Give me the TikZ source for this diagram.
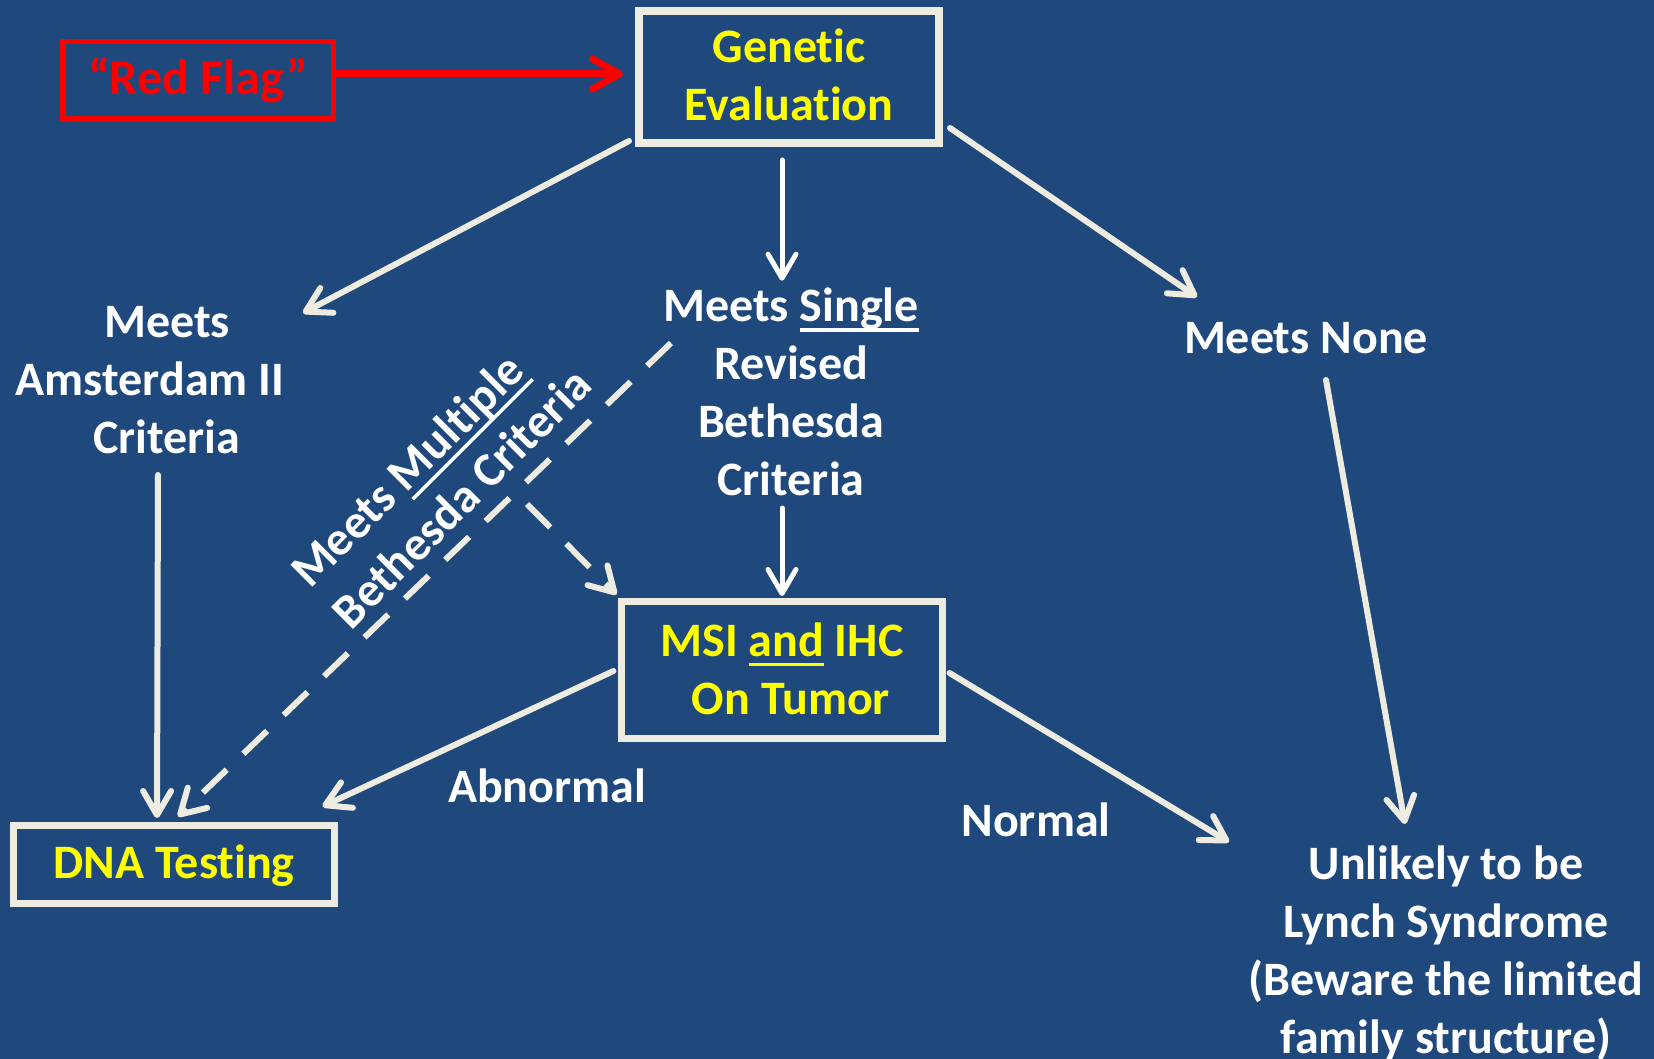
\documentclass[tikz,border=0pt]{standalone}
\usepackage{fontspec}
\setmainfont{Carlito}[Ligatures={NoCommon,NoContextual}]
\usetikzlibrary{arrows.meta}
\definecolor{slide}{HTML}{1F497D}
\definecolor{cream}{HTML}{EEECE1}
\definecolor{hilite}{HTML}{FFFF00}
\definecolor{flagred}{HTML}{FF0000}
% underlined word, rule in the current text colour
\newcommand{\ulword}[1]{\setbox0=\hbox{#1}\rlap{\rule[-10pt]{\wd0}{3.5pt}}\box0\relax}
% struts that fix the height of box texts and free labels
\newcommand{\boxtop}{\rule{0pt}{36pt}}
\newcommand{\boxbot}{\rule[-6pt]{0pt}{6pt}}
\newcommand{\lbltop}{\rule{0pt}{40pt}}

\begin{document}
\begin{tikzpicture}[x=1pt,y=-1pt,
  font=\fontsize{48}{58}\selectfont\bfseries,
  framed/.style={draw=cream, fill=slide, text=hilite, align=center, inner sep=0pt, line width=7pt},
  lbl/.style={text=white, align=center, inner sep=0pt, anchor=north},
  arr/.style={draw=cream, line width=6pt, line cap=round, -{Straight Barb[length=24pt,width=28pt,round]}},
  warr/.style={arr, draw=white, line width=5pt},
  darr/.style={arr, line cap=butt, dash pattern=on 33pt off 23pt},
  redarr/.style={draw=flagred, line width=7pt, -{Straight Barb[length=27pt,width=30pt,round]}}
]
\path[use as bounding box, fill=slide] (0,0) rectangle (1654,1059);

% boxes
\node[framed, draw=flagred, text=flagred, line width=5.5pt, minimum width=270.5pt, minimum height=77.5pt,
  font=\fontsize{50}{58}\selectfont\bfseries]
  (flag) at (198,80.5) {\boxtop “Red Flag”\boxbot};
\node[framed, line width=8pt, minimum width=300pt, minimum height=132pt]
  (gen) at (789,77) {\boxtop Genetic\\Evaluation\boxbot};
\node[framed, minimum width=321pt, minimum height=137pt]
  (msi) at (782,670) {\boxtop MSI \ulword{and} IHC\\\hspace*{18pt}On Tumor\boxbot};
\node[framed, minimum width=321pt, minimum height=78pt]
  (dna) at (174,864.5) {\boxtop DNA Testing\boxbot};

% free labels
\node[lbl] (ams) at (167,297.5) {\lbltop Meets\\Amsterdam II\rule{34pt}{0pt}\\Criteria};
\node[lbl] (single) at (791,281.7) {\lbltop Meets \ulword{Single}\\Revised\\Bethesda\\Criteria};
\node[lbl] (none) at (1306,313) {\lbltop Meets None};
\node[lbl] (unlikely) at (1446,839) {\lbltop Unlikely to be\\Lynch Syndrome\\(Beware the limited\\family structure)};
\node[lbl, align=left, anchor=north west, rotate=45] (mult) at (281.7,561.7)
  {\lbltop Meets \ulword{Multiple}\\Bethesda Criteria};
\node[lbl] (abn) at (547,762) {\lbltop Abnormal};
\node[lbl] (nor) at (1036,796.5) {\lbltop Normal};

% connectors
\draw[redarr] ([shift={(0,-6.5)}]flag.east) -- ([shift={(-12,-3)}]gen.west);
\draw[arr] ([shift={(-6,-6)}]gen.south west) -- ([shift={(136,15.5)}]ams.north);
\draw[warr] ([shift={(-7,13)}]gen.south) -- ([shift={(-9,-1)}]single.north);
\draw[arr] ([shift={(7,-19)}]gen.south east) -- ([shift={(-109,-16)}]none.north);
\draw[arr] ([shift={(-9,177.5)}]ams.north) -- ([shift={(-17,-4)}]dna.north);
\draw[warr] ([shift={(-9,226.3)}]single.north) -- ([shift={(0,-2)}]msi.north);
\draw[arr] ([shift={(20,67)}]none.north) -- ([shift={(-41,-15)}]unlikely.north);
\draw[darr] ([shift={(-120,61.3)}]single.north) -- ([shift={(4,-5.5)}]dna.north);
\draw[darr] ([shift={(245.3,-57.7)}]mult.north west) -- ([shift={(-1.5,-3.5)}]msi.north west);
\draw[arr] ([shift={(-4.5,1)}]msi.west) -- ([shift={(-15.5,-15.5)}]dna.north east);
\draw[arr] ([shift={(3.5,3)}]msi.east) -- ([shift={(-217,3)}]unlikely.north);
\end{tikzpicture}
\end{document}
